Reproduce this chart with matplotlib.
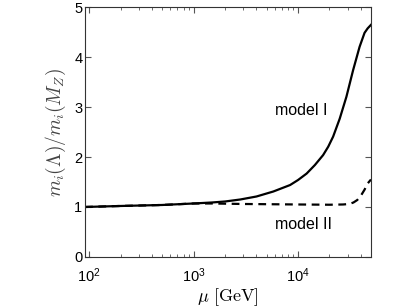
import matplotlib
matplotlib.use("Agg")
import matplotlib.pyplot as plt
from matplotlib.ticker import LogLocator, NullFormatter

plt.rcParams['font.family'] = ['Liberation Sans', 'DejaVu Sans']
plt.rcParams['mathtext.fontset'] = 'cm'

# running scale mu [GeV] and mass ratio m_i(Lambda)/m_i(M_Z)
mu_1 = [91.19, 200, 500, 1000, 1500, 2000, 2800, 4000, 5800, 8400, 10000,
        12100, 14500, 17400, 19500, 21700, 25100, 29100, 33700, 38900,
        43400, 46500, 50000]
ratio_1 = [1.00, 1.02, 1.04, 1.07, 1.09, 1.11, 1.15, 1.21, 1.31, 1.44, 1.54,
           1.67, 1.84, 2.04, 2.21, 2.41, 2.77, 3.21, 3.74, 4.21,
           4.49, 4.58, 4.65]

mu_2 = [91.19, 200, 500, 1000, 1500, 3000, 10000, 20000, 27000, 31000,
        34000, 37000, 40400, 43500, 46000, 50000]
ratio_2 = [1.00, 1.02, 1.04, 1.07, 1.07, 1.06, 1.05, 1.045, 1.05, 1.06,
           1.09, 1.14, 1.24, 1.35, 1.46, 1.55]

fig = plt.figure(figsize=(4.09, 3.08), dpi=100)
ax = fig.add_axes([0.208, 0.166, 0.699, 0.810])

ax.plot(mu_1, ratio_1, color='black', lw=1.6)
ax.plot(mu_2, ratio_2, color='black', lw=1.6, ls=(0, (3.5, 2.5)))

ax.text(6000, 2.94, 'model I', fontsize=11.5, va='center', ha='left')
ax.text(6000, 0.64, 'model II', fontsize=11.5, va='center', ha='left')

ax.set_xscale('log')
ax.set_xlim(91.19, 50000)
ax.set_ylim(0, 5)
ax.set_yticks([0, 1, 2, 3, 4, 5])
ax.xaxis.set_minor_locator(LogLocator(base=10, subs=range(2, 10)))
ax.xaxis.set_minor_formatter(NullFormatter())

ax.tick_params(which='both', direction='in', top=True, right=True,
               labelsize=10.5, color='#555555')
ax.tick_params(which='major', length=4)
ax.tick_params(axis='x', which='major', pad=7)
ax.tick_params(axis='y', which='major', pad=2)
ax.tick_params(which='minor', length=2)
for s in ax.spines.values():
    s.set_color('#333333')
    s.set_linewidth(0.8)

ax.set_xlabel(r'$\mu\ [\mathrm{GeV}]$', fontsize=13, labelpad=1)
ax.set_ylabel(r'$m_i(\Lambda)/m_i(M_Z)$', fontsize=14, color='#444444', labelpad=4)

fig.savefig('out.png', dpi=100)
